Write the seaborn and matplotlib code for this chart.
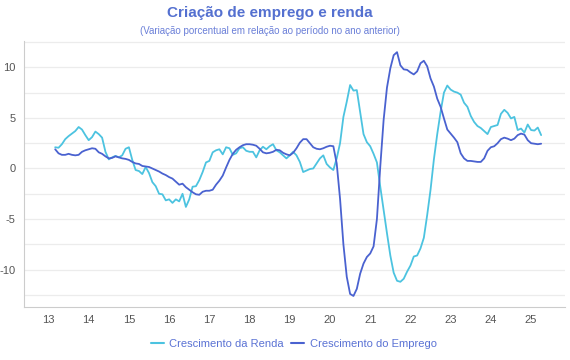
import numpy as np
import pandas as pd
import matplotlib.pyplot as plt
import seaborn as sns

# Valores mensais (mar/2013 a abr/2025)
renda = [2.1, 2.05, 2.4, 2.9, 3.2, 3.45, 3.7, 4.1, 3.85, 3.3,
         2.8, 3.1, 3.65, 3.4, 3.05, 1.65, 0.9, 1.1, 1.25, 1.1,
         1.3, 1.95, 2.1, 0.85, -0.15, -0.25, -0.55, 0.15, -0.45, -1.35,
         -1.75, -2.5, -2.55, -3.15, -3.05, -3.4, -3.05, -3.25, -2.5, -3.8,
         -3.05, -1.8, -1.75, -1.15, -0.35, 0.6, 0.75, 1.6, 1.8, 1.9,
         1.4, 2.1, 2.0, 1.35, 1.5, 2.0, 2.1, 1.75, 1.65, 1.65,
         1.1, 1.8, 2.15, 1.9, 2.2, 2.4, 1.8, 1.6, 1.3, 1.0,
         1.3, 1.65, 1.3, 0.65, -0.35, -0.2, -0.05, 0.0, 0.5, 1.0,
         1.3, 0.45, 0.1, -0.15, 1.0, 2.5, 5.1, 6.6, 8.25, 7.7,
         7.75, 5.6, 3.4, 2.6, 2.2, 1.45, 0.6, -1.8, -4.1, -6.4,
         -8.6, -10.3, -11.1, -11.2, -10.9, -10.2, -9.6, -8.7, -8.6, -7.9,
         -6.85, -4.6, -2.1, 0.9, 3.4, 5.6, 7.5, 8.2, 7.8, 7.6,
         7.5, 7.3, 6.5, 6.1, 5.2, 4.6, 4.2, 4.0, 3.7, 3.4,
         4.1, 4.2, 4.3, 5.4, 5.8, 5.5, 4.95, 5.1, 3.8, 3.95,
         3.55, 4.35, 3.8, 3.75, 4.05, 3.3]

emprego = [1.9, 1.5, 1.35, 1.35, 1.45, 1.35, 1.3, 1.35, 1.65, 1.8,
           1.9, 2.0, 1.95, 1.6, 1.45, 1.2, 1.0, 1.05, 1.2, 1.1,
           1.0, 0.95, 0.85, 0.65, 0.5, 0.45, 0.25, 0.2, 0.15, 0.0,
           -0.15, -0.3, -0.5, -0.65, -0.85, -1.0, -1.3, -1.6, -1.5, -1.85,
           -2.1, -2.35, -2.55, -2.6, -2.3, -2.2, -2.2, -2.1, -1.6, -1.2,
           -0.7, 0.1, 0.85, 1.45, 1.85, 2.1, 2.3, 2.4, 2.4, 2.35,
           2.25, 1.95, 1.6, 1.5, 1.55, 1.65, 1.85, 1.8, 1.55, 1.4,
           1.3, 1.55, 2.0, 2.55, 2.9, 2.9, 2.5, 2.1, 1.95, 1.9,
           2.0, 2.15, 2.25, 2.2, 0.5, -3.0, -7.5, -10.7, -12.4, -12.6,
           -11.9, -10.4, -9.4, -8.75, -8.4, -7.7, -5.0, 0.2, 4.8, 8.0,
           9.9, 11.2, 11.5, 10.2, 9.8, 9.75, 9.5, 9.3, 9.6, 10.4,
           10.65, 10.1, 8.9, 8.1, 6.9, 6.1, 4.95, 3.85, 3.45, 3.05,
           2.6, 1.5, 1.0, 0.75, 0.75, 0.7, 0.65, 0.65, 1.0, 1.75,
           2.1, 2.2, 2.5, 2.9, 3.05, 2.95, 2.8, 2.95, 3.3, 3.45,
           3.35, 2.8, 2.5, 2.45, 2.4, 2.45]

anos = list(range(2013, 2026))
rotulos_x = ["13", "14", "15", "16", "17", "18", "19", "20", "21", "22", "23", "24", "25"]

datas = pd.date_range("2013-03-01", periods=len(renda), freq="MS")
x = datas.year + (datas.month - 1) / 12

df = pd.DataFrame({
    "ano": np.concatenate([x, x]),
    "valor": renda + emprego,
    "serie": ["Crescimento da Renda"] * len(renda) + ["Crescimento do Emprego"] * len(emprego),
})

sns.set_style("white")
plt.rcParams["font.family"] = ["Liberation Sans", "DejaVu Sans"]
plt.rcParams["axes.unicode_minus"] = False

fig = plt.figure(figsize=(5.7, 3.6), dpi=100)
ax = fig.add_axes([0.042, 0.147, 0.949, 0.739])

cores = {"Crescimento da Renda": "#4cc3e0", "Crescimento do Emprego": "#4a62d0"}
sns.lineplot(data=df, x="ano", y="valor", hue="serie", palette=cores,
             linewidth=1.3, ax=ax, legend=False)

ax.set_xlim(2012.39, 2025.84)
ax.set_ylim(-13.7, 12.6)
ax.set_xticks(anos)
ax.set_xticklabels(rotulos_x)
ax.set_yticks([-10, -5, 0, 5, 10])
ax.set_yticks(np.arange(-12.5, 12.6, 2.5), minor=True)
ax.grid(axis="y", which="both", color="#ececec", linewidth=0.9)
ax.set_axisbelow(True)
ax.tick_params(axis="both", length=0, labelsize=8, colors="#555555", pad=6)
ax.set_xlabel("")
ax.set_ylabel("")
for lado in ["top", "right"]:
    ax.spines[lado].set_visible(False)
ax.spines["left"].set_color("#cccccc")
ax.spines["bottom"].set_color("#cccccc")

fig.text(0.474, 0.965, "Criação de emprego e renda", ha="center", va="center",
         fontsize=11, fontweight="bold", color="#5470d0")
fig.text(0.474, 0.915, "(Variação porcentual em relação ao período no ano anterior)",
         ha="center", va="center", fontsize=7.0, color="#6a7fd8")

handles = [plt.Line2D([], [], color=cores[k], linewidth=1.5) for k in cores]
fig.legend(handles, list(cores.keys()), loc="center", bbox_to_anchor=(0.515, 0.044),
           ncol=2, frameon=False, fontsize=8, handlelength=1.2, handletextpad=0.5,
           columnspacing=0.6, labelcolor="#5a72d4")

fig.savefig("out.png", dpi=100)
